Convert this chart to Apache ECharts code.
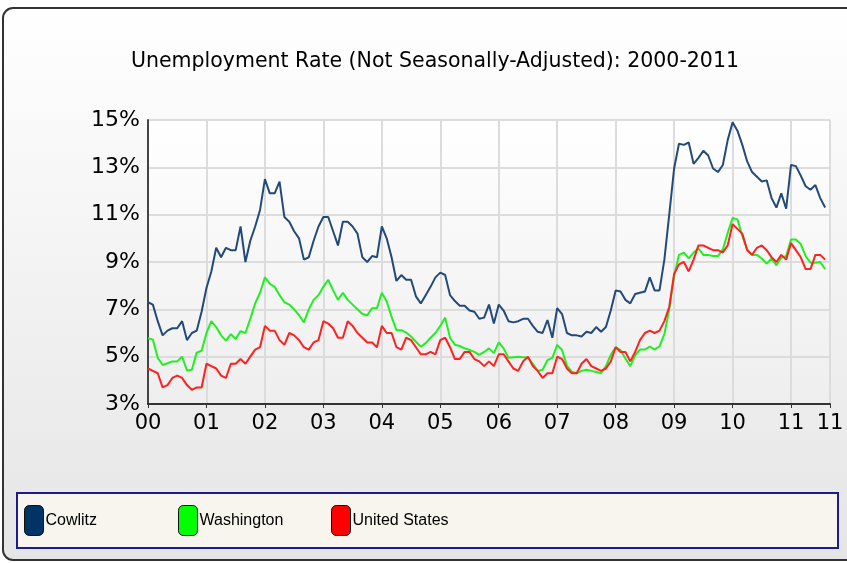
<!DOCTYPE html>
<html>
<head>
<meta charset="utf-8">
<script src="https://cdn.jsdelivr.net/npm/echarts@6/dist/echarts.min.js"></script>
<style>
html, body { margin: 0; padding: 0; background: #fff; }
#chart { width: 847px; height: 563px; }
</style>
</head>
<body>
<div id="chart"></div>
<script>
// monthly values, Jan 2000 .. Aug 2011
var yearLabels = ['00', '01', '02', '03', '04', '05', '06', '07', '08', '09', '10', '11'];
var yTicks = [3, 15, 2];

var cowlitz = [
    7.3, 7.2, 6.5, 5.9, 6.1, 6.2, 6.2, 6.5, 5.7, 6.0, 6.1, 6.9,
    7.9, 8.6, 9.6, 9.2, 9.6, 9.5, 9.5, 10.5, 9.0, 9.9, 10.5, 11.2,
    12.5, 11.9, 11.9, 12.4, 10.9, 10.7, 10.3, 10.0, 9.1, 9.2, 9.9, 10.5,
    10.9, 10.9, 10.3, 9.7, 10.7, 10.7, 10.5, 10.2, 9.2, 9.0, 9.25, 9.2,
    10.5, 10.0, 9.2, 8.2, 8.45, 8.25, 8.25, 7.55, 7.25, 7.6, 7.95, 8.35,
    8.55, 8.45, 7.6, 7.35, 7.15, 7.15, 6.95, 6.9, 6.6, 6.65, 7.2, 6.4,
    7.2, 6.95, 6.5, 6.45, 6.5, 6.6, 6.6, 6.3, 6.05, 6.0, 6.55, 5.8,
    7.05, 6.8, 6.0, 5.9, 5.9, 5.85, 6.05, 6.0, 6.25, 6.05, 6.25, 6.95,
    7.8, 7.75, 7.4, 7.25, 7.65, 7.7, 7.75, 8.35, 7.8, 7.8, 9.1, 11.0,
    12.95, 14.0, 13.95, 14.05, 13.15, 13.4, 13.7, 13.5, 12.95, 12.8, 13.1, 14.15,
    14.9, 14.55, 13.95, 13.25, 12.8, 12.6, 12.4, 12.45, 11.7, 11.3, 11.9, 11.25,
    13.1, 13.05, 12.65, 12.2, 12.05, 12.25, 11.7, 11.3
];
var washington = [
    5.78, 5.72, 4.95, 4.65, 4.72, 4.8, 4.8, 5.0, 4.42, 4.45, 5.17, 5.25,
    6.0, 6.5, 6.25, 5.9, 5.68, 5.95, 5.75, 6.08, 6.0, 6.6, 7.25, 7.7,
    8.35, 8.08, 7.95, 7.6, 7.3, 7.2, 7.0, 6.75, 6.45, 7.0, 7.4, 7.6,
    7.95, 8.25, 7.8, 7.4, 7.7, 7.4, 7.2, 7.0, 6.8, 6.75, 7.05, 7.05,
    7.7, 7.33, 6.68, 6.12, 6.12, 6.02, 5.85, 5.63, 5.42, 5.57, 5.8, 6.0,
    6.3, 6.65, 5.8, 5.5, 5.45, 5.35, 5.28, 5.2, 5.08, 5.2, 5.35, 5.15,
    5.6, 5.35, 4.95, 4.98, 5.0, 4.98, 4.95, 4.7, 4.4, 4.45, 4.85, 4.95,
    5.5, 5.28, 4.62, 4.36, 4.3, 4.4, 4.45, 4.4, 4.35, 4.3, 4.6, 5.08,
    5.4, 5.28, 4.92, 4.6, 5.05, 5.3, 5.3, 5.43, 5.3, 5.44, 5.95, 7.0,
    8.4, 9.3, 9.4, 9.15, 9.4, 9.57, 9.3, 9.3, 9.25, 9.25, 9.53, 10.23,
    10.86, 10.8, 10.1, 9.53, 9.3, 9.3, 9.15, 8.93, 9.15, 8.86, 9.18, 9.25,
    9.95, 9.95, 9.76, 9.25, 8.97, 8.97, 9.0, 8.7
];
var unitedStates = [
    4.5, 4.4, 4.3, 3.7, 3.8, 4.1, 4.2, 4.1, 3.8, 3.6, 3.7, 3.7,
    4.7, 4.6, 4.5, 4.2, 4.1, 4.7, 4.7, 4.9, 4.7, 5.0, 5.3, 5.4,
    6.3, 6.1, 6.1, 5.7, 5.5, 6.0, 5.9, 5.7, 5.4, 5.3, 5.6, 5.7,
    6.5, 6.4, 6.2, 5.8, 5.8, 6.5, 6.3, 6.0, 5.8, 5.6, 5.6, 5.4,
    6.3, 6.0, 6.0, 5.4, 5.3, 5.8, 5.7, 5.4, 5.1, 5.1, 5.2, 5.1,
    5.7, 5.8, 5.4, 4.9, 4.9, 5.2, 5.2, 4.9, 4.8, 4.6, 4.8, 4.6,
    5.1, 5.1, 4.8, 4.5, 4.4, 4.8, 5.0, 4.6, 4.4, 4.1, 4.3, 4.3,
    5.0, 4.9, 4.5, 4.3, 4.3, 4.7, 4.9, 4.6, 4.5, 4.4, 4.5, 4.8,
    5.4, 5.2, 5.2, 4.8, 5.2, 5.7, 6.0, 6.1, 6.0, 6.1, 6.5, 7.1,
    8.5, 8.9, 9.0, 8.6, 9.1, 9.7, 9.7, 9.6, 9.5, 9.5, 9.4, 9.7,
    10.6, 10.4, 10.2, 9.5, 9.3, 9.6, 9.7, 9.5, 9.2, 9.0, 9.3, 9.1,
    9.8, 9.5, 9.2, 8.7, 8.7, 9.3, 9.3, 9.1
];

function pairs(arr) {
    return arr.map(function (v, i) { return [i, v]; });
}

var dom = document.getElementById('chart');
var myChart = echarts.init(dom, null, { renderer: 'canvas' });

var legendBase = {
    top: 505,
    padding: 0,
    itemWidth: 19,
    itemHeight: 30,
    icon: 'roundRect',
    selectedMode: false,
    textStyle: {
        fontFamily: 'Liberation Sans', fontSize: 16, color: '#000', padding: [0, 0, 0, -3]
    }
};

var option = {
    animation: false,
    title: {
        text: 'Unemployment Rate (Not Seasonally-Adjusted): 2000-2011',
        left: 126,
        top: 46,
        textStyle: { fontFamily: 'DejaVu Sans', fontSize: 20.5, fontWeight: 'normal', color: '#000' }
    },
    graphic: [
        {
            type: 'rect', z: -10,
            shape: { x: 3, y: 8, width: 880, height: 552, r: 10 },
            style: {
                fill: new echarts.graphic.LinearGradient(0, 0, 0, 1, [
                    { offset: 0, color: '#ffffff' }, { offset: 1, color: '#e5e5e5' }
                ]),
                stroke: '#333', lineWidth: 2
            }
        },
        {
            type: 'rect', z: 0,
            shape: { x: 17, y: 493, width: 821, height: 55 },
            style: { fill: '#f7f5ee', stroke: '#1c1c8e', lineWidth: 2 }
        }
    ],
    legend: [
        Object.assign({}, legendBase, { left: 24, data: [{ name: 'Cowlitz', itemStyle: { color: '#003366', borderColor: '#111', borderWidth: 1 } }] }),
        Object.assign({}, legendBase, { left: 178, data: [{ name: 'Washington', itemStyle: { color: '#00ff00', borderColor: '#111', borderWidth: 1 } }] }),
        Object.assign({}, legendBase, { left: 331, data: [{ name: 'United States', itemStyle: { color: '#ff0000', borderColor: '#111', borderWidth: 1 } }] })
    ],
    grid: {
        left: 148, right: 17, top: 120, bottom: 159,
        show: true, borderWidth: 0,
        backgroundColor: new echarts.graphic.LinearGradient(0, 0, 0, 1, [
            { offset: 0, color: '#ffffff' }, { offset: 1, color: '#eeeeee' }
        ])
    },
    xAxis: {
        type: 'value',
        min: 0, max: 140, interval: 12,
        axisLine: { lineStyle: { color: '#333', width: 2 } },
        axisTick: { show: true, length: 4, lineStyle: { color: '#333' } },
        axisLabel: {
            fontFamily: 'DejaVu Sans', fontSize: 21, color: '#000', margin: 9,
            showMaxLabel: true,
            formatter: function (v) { return yearLabels[Math.min(11, Math.floor(v / 12))]; }
        },
        splitLine: { show: true, lineStyle: { color: '#dcdcdc', width: 2 } }
    },
    yAxis: {
        type: 'value',
        min: yTicks[0], max: yTicks[1], interval: yTicks[2],
        axisLine: { show: true, lineStyle: { color: '#444', width: 2 } },
        axisTick: { show: false },
        axisLabel: {
            fontFamily: 'DejaVu Sans', fontSize: 22, color: '#000', margin: 8,
            formatter: '{value}%'
        },
        splitLine: { show: true, lineStyle: { color: '#dcdcdc', width: 2 } }
    },
    series: [
        { name: 'Cowlitz', type: 'line', data: pairs(cowlitz), showSymbol: false, color: '#224a78', lineStyle: { width: 2 } },
        { name: 'Washington', type: 'line', data: pairs(washington), showSymbol: false, color: '#22ee22', lineStyle: { width: 2 } },
        { name: 'United States', type: 'line', data: pairs(unitedStates), showSymbol: false, color: '#ff2020', lineStyle: { width: 2 } }
    ]
};

myChart.setOption(option);
</script>
</body>
</html>
